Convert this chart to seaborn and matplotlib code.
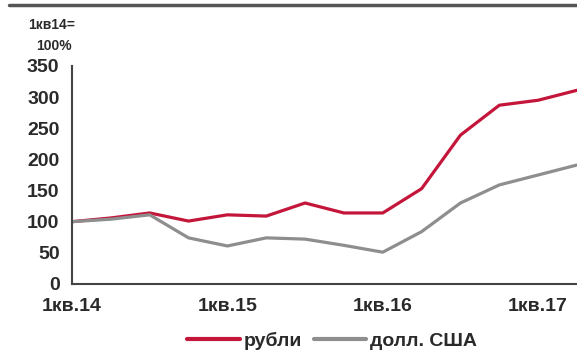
import matplotlib
matplotlib.use("Agg")
import matplotlib.pyplot as plt
import seaborn as sns
import pandas as pd

# Quarterly index values, 1кв.14 = 100%
quarters = ["1кв.14", "2кв.14", "3кв.14", "4кв.14",
            "1кв.15", "2кв.15", "3кв.15", "4кв.15",
            "1кв.16", "2кв.16", "3кв.16", "4кв.16",
            "1кв.17", "2кв.17"]
rub = [100, 106, 114, 101, 111, 109, 130, 114, 114, 153, 239, 287, 295, 311]
usd = [100, 104, 111, 74, 61, 74, 72, 62, 51, 84, 130, 159, 175, 191]
series_names = ["рубли", "долл. США"]
tick_labels = ["1кв.14", "1кв.15", "1кв.16", "1кв.17"]
y_ticks = [0, 50, 100, 150, 200, 250, 300, 350]

df = pd.DataFrame({
    "idx": list(range(len(quarters))) * 2,
    "value": rub + usd,
    "series": [series_names[0]] * len(rub) + [series_names[1]] * len(usd),
})

sns.set_style("white")
plt.rcParams["font.family"] = ["Liberation Sans", "DejaVu Sans"]

fig = plt.figure(figsize=(5.77, 3.51), dpi=100)
ax = fig.add_axes([0.1248, 0.191, 0.8752, 0.621])

palette = {series_names[0]: "#C4163A", series_names[1]: "#8E8E8E"}
sns.lineplot(data=df, x="idx", y="value", hue="series", palette=palette,
             linewidth=2.3, ax=ax, legend=True)

ax.set_xlim(0, len(quarters) - 1)
ax.set_ylim(0, 350)
ax.set_yticks(y_ticks)
ax.set_yticklabels([str(v) for v in y_ticks])
ax.set_xticks([quarters.index(t) for t in tick_labels])
ax.set_xticklabels(tick_labels)
ax.set_xlabel("")
ax.set_ylabel("")

for s in ["top", "right"]:
    ax.spines[s].set_visible(False)
for s in ["left", "bottom"]:
    ax.spines[s].set_color("#444444")
    ax.spines[s].set_linewidth(1.5)

ax.tick_params(axis="both", colors="#444444", labelcolor="#2a2a2a",
               labelsize=14, length=4, width=1.3, direction="out")
ax.tick_params(axis="y", pad=5)
ax.tick_params(axis="x", pad=6)
for lbl in ax.get_xticklabels() + ax.get_yticklabels():
    lbl.set_fontweight("bold")

leg = ax.legend(loc="center", bbox_to_anchor=(332 / 577, 10 / 351),
                bbox_transform=fig.transFigure, ncol=2, frameon=False,
                prop={"size": 14, "weight": "bold"}, handlelength=2.7,
                handletextpad=0.2, columnspacing=0.6, borderaxespad=0)
for line in leg.get_lines():
    line.set_linewidth(3)
for t in leg.get_texts():
    t.set_color("#2a2a2a")

# header rule and unit note
fig.add_artist(plt.Line2D([9 / 577, 1.0], [1 - 5 / 351, 1 - 5 / 351],
                          transform=fig.transFigure, color="#555555", lw=2.5))
fig.text(52 / 577, 1 - 25 / 351, "1кв14=", ha="center", va="center",
         fontsize=10, fontweight="bold", color="#2a2a2a")
fig.text(54 / 577, 1 - 46 / 351, "100%", ha="center", va="center",
         fontsize=10, fontweight="bold", color="#2a2a2a")

fig.savefig("out.png", dpi=100)
